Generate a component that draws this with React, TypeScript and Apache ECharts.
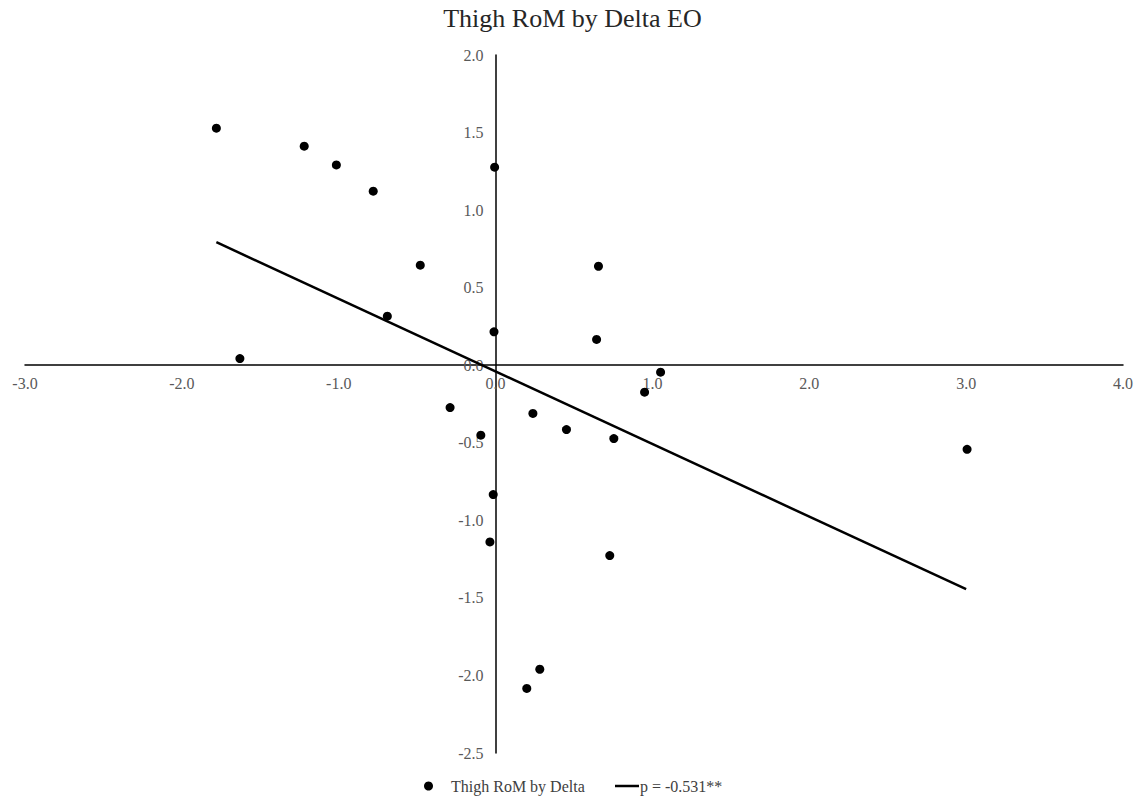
import React, { useEffect, useRef } from "react";
import * as echarts from "echarts";

const titleText = "Thigh RoM by Delta EO";
const scatterName = "Thigh RoM by Delta";
const trendName = "p = -0.531**";

const deltaX = [-1.78, -1.22, -1.015, -0.78, -0.006, -0.48, -0.69, -0.01, -1.63, 0.656, 0.644, 1.052, 0.95, -0.29, -0.094, 0.238, 0.452, 0.754, -0.015, 3.006, -0.036, 0.728, 0.282, 0.199];
const thighY = [1.528, 1.412, 1.291, 1.122, 1.277, 0.645, 0.316, 0.215, 0.043, 0.638, 0.166, -0.045, -0.174, -0.273, -0.451, -0.311, -0.415, -0.473, -0.834, -0.542, -1.139, -1.227, -1.96, -2.084];

const trendX = [-1.78, 3.0];
const trendY = [0.793, -1.444];

const xMin = -3, xMax = 4, xStep = 1;
const yMin = -2.5, yMax = 2, yStep = 0.5;

const FONT = "'Liberation Serif', 'Times New Roman', serif";

export default function App() {
  const ref = useRef<HTMLDivElement>(null);
  useEffect(() => {
    if (!ref.current) return;
    const chart = echarts.init(ref.current, null, { renderer: "svg" });
    const labelStyle = { color: "#595959", fontSize: 16, fontFamily: FONT };
    chart.setOption({
      animation: false,
      backgroundColor: "#ffffff",
      title: {
        text: titleText,
        left: "center",
        top: 5,
        padding: 0,
        textStyle: { color: "#262626", fontSize: 26, fontWeight: "normal", fontFamily: FONT },
      },
      legend: [
        {
          data: [{ name: scatterName, icon: "circle" }],
          left: 424,
          top: 778,
          padding: 0,
          itemWidth: 9,
          itemHeight: 9,
          textStyle: { ...labelStyle, color: "#404040", padding: [0, 0, 0, 13] },
        },
        {
          data: [{ name: trendName, icon: "rect" }],
          left: 615,
          top: 778,
          padding: 0,
          itemWidth: 24,
          itemHeight: 2.5,
          itemGap: 0,
          textStyle: { ...labelStyle, color: "#404040", padding: [0, 0, 0, -4] },
        },
      ],
      grid: { left: 25, right: 22, top: 55, bottom: 47, containLabel: false, outerBoundsMode: "none" },
      xAxis: {
        type: "value",
        position: "bottom",
        min: xMin,
        max: xMax,
        interval: xStep,
        axisLine: { onZero: false, lineStyle: { color: "#000", width: 1.5 } },
        axisTick: { show: false },
        splitLine: { show: false },
        axisLabel: {
          ...labelStyle,
          margin: 10,
          showMinLabel: true,
          showMaxLabel: true,
          hideOverlap: false,
          formatter: (v: number) => v.toFixed(1),
        },
      },
      yAxis: {
        type: "value",
        position: "left",
        min: yMin,
        max: yMax,
        interval: yStep,
        axisLine: { onZero: false, lineStyle: { color: "#000", width: 1.5 } },
        axisTick: { show: false },
        splitLine: { show: false },
        axisLabel: {
          ...labelStyle,
          margin: 12,
          showMinLabel: true,
          showMaxLabel: true,
          hideOverlap: false,
          formatter: (v: number) => v.toFixed(1),
        },
      },
      series: [
        {
          name: scatterName,
          type: "scatter",
          symbol: "circle",
          symbolSize: 9,
          itemStyle: { color: "#000", opacity: 1 },
          data: deltaX.map((x, i) => [x, thighY[i]]),
          z: 3,
        },
        {
          name: trendName,
          type: "line",
          showSymbol: false,
          symbol: "none",
          lineStyle: { color: "#000", width: 2.5 },
          itemStyle: { color: "#000" },
          data: trendX.map((x, i) => [x, trendY[i]]),
          z: 2,
        },
      ],
    });
    // move each axis (line and labels) to cross the other at zero
    const origin = chart.convertToPixel({ gridIndex: 0 }, [0, 0]) as number[];
    const minCorner = chart.convertToPixel({ gridIndex: 0 }, [xMin, yMin]) as number[];
    chart.setOption({
      xAxis: { offset: -(minCorner[1] - origin[1]) },
      yAxis: { offset: -(origin[0] - minCorner[0]) },
    });
    return () => chart.dispose();
  }, []);
  return (
    <div
      ref={ref}
      style={{ position: "fixed", left: 0, top: 0, width: 1145, height: 800, background: "#fff" }}
    />
  );
}
